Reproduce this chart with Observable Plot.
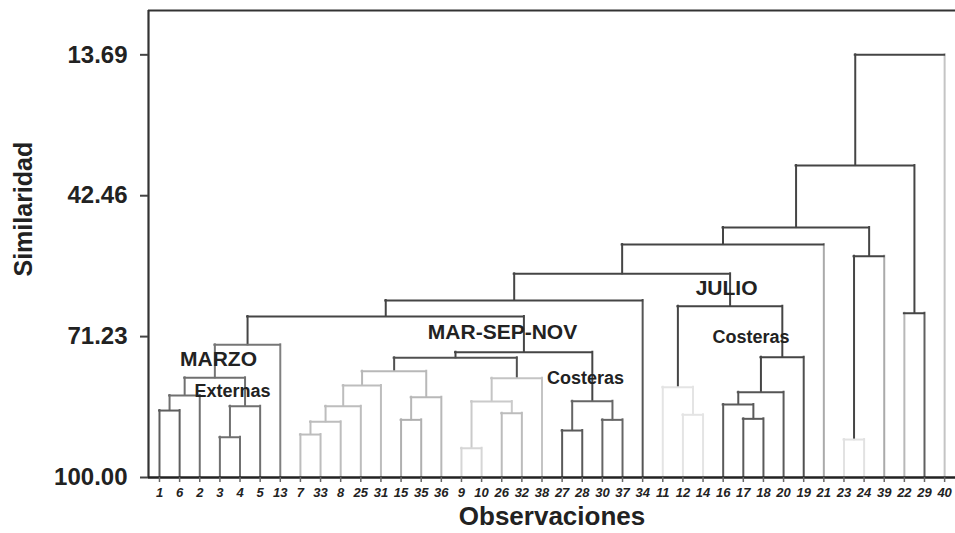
<!DOCTYPE html>
<html>
<head>
<meta charset="utf-8">
<script src="https://cdn.jsdelivr.net/npm/d3@7"></script>
<script src="https://cdn.jsdelivr.net/npm/@observablehq/plot@0.6"></script>
<style>
  body { margin: 0; background: #fff; }
  svg { display: block; }
</style>
</head>
<body>
<div id="chart"></div>
<script>
// ---------- DATA ----------
// leaf order along the x axis (observation numbers)
const leaves = [1, 6, 2, 3, 4, 5, 13, 7, 33, 8, 25, 31, 15, 35, 36, 9, 10, 26, 32, 38,
                27, 28, 30, 37, 34, 11, 12, 14, 16, 17, 18, 20, 19, 21, 23, 24, 39, 22, 29, 40];
// merges: positive = observation number, negative = earlier merge number (1-based)
const mergeA = [1, -1, 3, -3, -2, -5, 7, -7, -8, -9, 15, -11, -10, 9, 26, -14, -16, -13, 27, 30,
                -19, -18, -6, -23, 12, 11, 17, 16, -28, -29, -26, -24, -32, 23, -34, -33, 22, -36, -38];
const mergeB = [6, 2, 4, 5, -4, 13, 33, 8, 25, 31, 35, 36, -12, 10, 32, -15, 38, -17, 28, 37,
                -20, -21, -22, 34, 14, -25, 18, -27, 20, 19, -30, -31, 21, 24, 39, -35, 29, -37, 40];
// similarity level of each merge
const mergeHeight = [86.33, 83.26, 91.78, 85.45, 79.65, 72.91, 91.23, 88.63, 85.45, 81.22,
                     88.23, 83.61, 78.30, 94.03, 86.88, 84.49, 79.73, 75.56, 90.41, 88.23,
                     84.43, 74.42, 67.13, 63.86, 87.20, 81.57, 88.02, 85.10, 82.59, 75.44,
                     65.03, 58.41, 52.43, 92.25, 54.82, 48.96, 66.46, 36.30, 13.69];
const yTicks = [13.69, 42.46, 71.23, 100.00];
const yTop = 4.64;
// group annotations (text, position in leaf-index units, similarity level)
const annoText = ["MARZO", "Externas", "MAR-SEP-NOV", "Costeras", "JULIO", "Costeras"];
const annoX = [2.93, 3.63, 17.04, 21.16, 28.17, 29.38];
const annoY = [75.91, 82.45, 70.34, 79.73, 61.41, 71.42];

// ---------- STYLES ----------
const leafShade = ["#5e5e5e", "#5e5e5e", "#707070", "#707070", "#707070", "#707070", "#808080",
  "#bdbdbd", "#bdbdbd", "#bdbdbd", "#bdbdbd", "#bdbdbd", "#b0b0b0", "#b0b0b0", "#b8b8b8",
  "#d6d6d6", "#d6d6d6", "#bcbcbc", "#bcbcbc", "#c4c4c4",
  "#5a5a5a", "#5a5a5a", "#666666", "#666666", "#555555",
  "#e4e4e4", "#e4e4e4", "#e4e4e4",
  "#5a5a5a", "#5a5a5a", "#5a5a5a", "#5a5a5a", "#505050",
  "#aaaaaa", "#e2e2e2", "#e2e2e2", "#aaaaaa", "#b8b8b8", "#606060", "#c4c4c4"];
const barShade = ["#5e5e5e", "#707070", "#707070", "#707070", "#707070", "#767676",
  "#bdbdbd", "#bdbdbd", "#bdbdbd", "#bdbdbd", "#b0b0b0", "#b8b8b8", "#b8b8b8",
  "#d6d6d6", "#bcbcbc", "#cacaca", "#c4c4c4",
  "#505050", "#5a5a5a", "#666666", "#666666", "#454545", "#454545", "#454545",
  "#e4e4e4", "#e4e4e4", "#5a5a5a", "#5a5a5a", "#555555", "#454545", "#454545", "#454545", "#454545",
  "#e2e2e2", "#454545", "#454545", "#454545", "#454545", "#454545"];
const annoSize = [21, 18, 21, 18, 21, 18];
const FONT = "'Liberation Sans', Arial, Helvetica, sans-serif";

// ---------- BUILD SEGMENTS ----------
const leafIndex = new Map(leaves.map((l, i) => [l, i]));
const nodeX = [];
function ref(r) {
  if (r > 0) { const i = leafIndex.get(r); return {x: i, h: 100, leaf: true, i}; }
  return {x: nodeX[-r - 1], h: mergeHeight[-r - 1], leaf: false};
}
const hSegs = [], vSegs = [];
mergeA.forEach((a, k) => {
  const A = ref(a), B = ref(mergeB[k]);
  const h = mergeHeight[k];
  nodeX[k] = (A.x + B.x) / 2;
  hSegs.push({x1: A.x, x2: B.x, y: h, c: barShade[k]});
  for (const C of [A, B]) {
    vSegs.push({x: C.x, y1: C.h, y2: h, c: C.leaf ? leafShade[C.i] : barShade[k]});
  }
});
const light = c => d3.hsl(c).l;
vSegs.sort((p, q) => light(q.c) - light(p.c));
hSegs.sort((p, q) => light(q.c) - light(p.c));

const xMin = -0.546, xMax = 39.54;

const chart = Plot.plot({
  width: 955,
  height: 533,
  marginLeft: 148,
  marginRight: 0,
  marginTop: 10,
  marginBottom: 56,
  style: {fontFamily: FONT, background: "#fff", color: "#222"},
  x: {domain: [xMin, xMax], axis: null},
  y: {domain: [100, yTop], axis: null},
  color: {type: "identity"},
  marks: [
    Plot.ruleX(vSegs, {x: "x", y1: "y1", y2: "y2", stroke: "c", strokeWidth: 2, strokeLinecap: "square"}),
    Plot.ruleY(hSegs, {y: "y", x1: "x1", x2: "x2", stroke: "c", strokeWidth: 2, strokeLinecap: "square"}),
    // frame: top and left
    Plot.ruleY([yTop], {x1: xMin, x2: xMax, stroke: "#333", strokeWidth: 2.2}),
    Plot.ruleX([xMin], {y1: yTop, y2: 100, stroke: "#333", strokeWidth: 2.2}),
    Plot.ruleY([100], {x1: xMin, x2: xMax, stroke: "#222", strokeWidth: 2.6}),
    Plot.axisY(yTicks, {
      anchor: "left", tickSize: 8, tickPadding: 13, tickFormat: d => d.toFixed(2),
      fontSize: 24, fontWeight: "bold", stroke: "#444", strokeWidth: 2, fill: "#222", label: null
    }),
    Plot.axisX(d3.range(leaves.length), {
      anchor: "bottom", tickSize: 5, tickPadding: 5, tickFormat: i => leaves[i],
      fontSize: 13, fontWeight: "bold", fontStyle: "italic", stroke: "#666", strokeWidth: 1.5,
      fill: "#222", label: null
    }),
    Plot.text(["Similaridad"], {
      text: d => d, frameAnchor: "left", rotate: -90, dx: -125, dy: 32.5,
      fontSize: 25, fontWeight: "bold", fill: "#222"
    }),
    Plot.text(["Observaciones"], {
      text: d => d, frameAnchor: "bottom", dx: 0, dy: 47,
      fontSize: 26, fontWeight: "bold", fill: "#222"
    }),
    Plot.text(annoText.map((t, i) => i).filter(i => annoSize[i] > 20), {
      text: i => annoText[i], x: i => annoX[i], y: i => annoY[i],
      fontSize: 21, fontWeight: "bold", fill: "#222"
    }),
    Plot.text(annoText.map((t, i) => i).filter(i => annoSize[i] <= 20), {
      text: i => annoText[i], x: i => annoX[i], y: i => annoY[i],
      fontSize: 18, fontWeight: "bold", fill: "#222"
    })
  ]
});
document.getElementById("chart").appendChild(chart);
</script>
</body>
</html>
